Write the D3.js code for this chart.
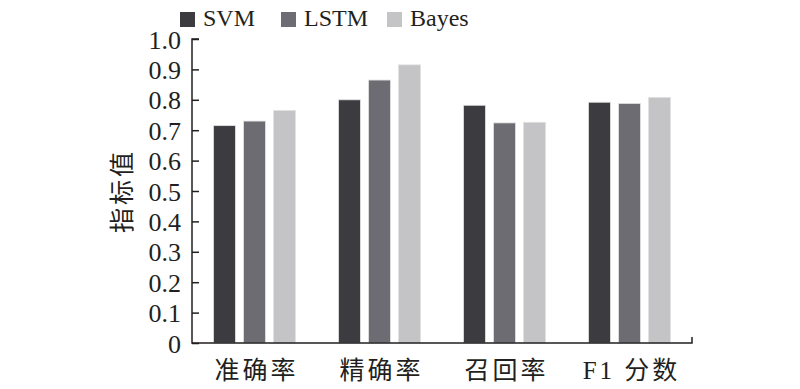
<!DOCTYPE html>
<html>
<head>
<meta charset="utf-8">
<script src="https://cdn.jsdelivr.net/npm/d3@7"></script>
<style>
  body { margin: 0; background: #fff; }
  text { font-family: "Liberation Serif", "Noto Sans CJK SC", serif; fill: #231f20; }
</style>
</head>
<body>
<script>
// data
var categories = ['准确率', '精确率', '召回率', 'F1 分数'];
var seriesNames = ['SVM', 'LSTM', 'Bayes'];
var svmValues = [0.715, 0.800, 0.782, 0.792];
var lstmValues = [0.730, 0.865, 0.724, 0.788];
var bayesValues = [0.765, 0.915, 0.726, 0.808];
var yTicks = [0, 0.1, 0.2, 0.3, 0.4, 0.5, 0.6, 0.7, 0.8, 0.9, 1.0];
var colors = ['#3c3b40', '#6d6c72', '#c4c3c5'];

var allValues = [svmValues, lstmValues, bayesValues];

var width = 800, height = 389;
var plotLeft = 192, plotRight = 692, plotTop = 39, plotBottom = 343;

var svg = d3.select(document.body)
  .append('svg')
  .attr('width', width)
  .attr('height', height);

var x0 = d3.scaleBand().domain(categories).range([plotLeft, plotRight]);
var x1 = d3.scaleBand().domain(seriesNames).range([-41, 41]).paddingInner(0.27);
var y = d3.scaleLinear().domain([0, 1]).range([plotBottom, plotTop]);

// bars
seriesNames.forEach(function(s, si){
  svg.append('g').selectAll('rect')
    .data(allValues[si])
    .enter()
    .append('rect')
    .attr('x', function(d, i){ return x0(categories[i]) + x0.bandwidth() / 2 + x1(s); })
    .attr('y', function(d){ return y(d); })
    .attr('width', x1.bandwidth())
    .attr('height', function(d){ return plotBottom - y(d); })
    .attr('fill', colors[si])
    .attr('stroke', '#e2e2e2')
    .attr('stroke-width', 0.8);
});

// y axis, ticks pointing inward
var yAxis = svg.append('g')
  .attr('transform', 'translate(' + plotLeft + ',0)')
  .call(d3.axisRight(y).tickValues(yTicks).tickSize(7)
    .tickFormat(function(d){ return d === 0 ? '0' : d3.format('.1f')(d); }));
yAxis.select('.domain').remove();
yAxis.selectAll('line').attr('stroke', '#231f20').attr('stroke-width', 1.5);
yAxis.selectAll('text')
  .attr('x', -11)
  .attr('dy', '0.35em')
  .attr('text-anchor', 'end')
  .style('font-size', '26px');

// axis lines
svg.append('path')
  .attr('d', 'M' + (plotLeft + 7) + ',' + plotTop + 'H' + plotLeft + 'V' + plotBottom + 'H' + plotRight + 'V' + (plotBottom - 6))
  .attr('fill', 'none')
  .attr('stroke', '#231f20')
  .attr('stroke-width', 1.5);

// x labels
svg.append('g').selectAll('text')
  .data(categories)
  .enter()
  .append('text')
  .attr('x', function(d){ return x0(d) + x0.bandwidth() / 2 + 2; })
  .attr('y', 379)
  .attr('text-anchor', 'middle')
  .style('font-size', '25px')
  .style('letter-spacing', '3px')
  .text(function(d){ return d; });

// y label
svg.append('text')
  .attr('transform', 'translate(131,191) rotate(-90)')
  .attr('text-anchor', 'middle')
  .style('font-size', '25px')
  .style('letter-spacing', '3px')
  .text('指标值');

// legend
var legendX = [180, 281, 387];
var legend = svg.append('g').selectAll('g')
  .data(seriesNames)
  .enter()
  .append('g')
  .attr('transform', function(d, i){ return 'translate(' + legendX[i] + ',12)'; });
legend.append('rect')
  .attr('width', 15).attr('height', 15)
  .attr('fill', function(d, i){ return colors[i]; });
legend.append('text')
  .attr('x', 23).attr('y', 14)
  .style('font-size', '24px')
  .text(function(d){ return d; });
</script>
</body>
</html>
